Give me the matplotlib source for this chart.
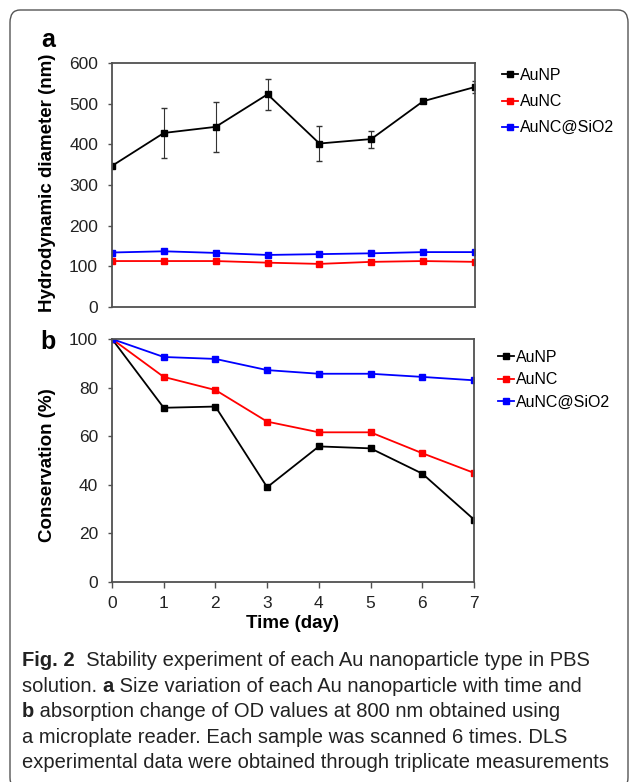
import matplotlib
matplotlib.use("Agg")
import matplotlib.pyplot as plt
from matplotlib.patches import FancyBboxPatch

# data
days = [0, 1, 2, 3, 4, 5, 6, 7]
series = ["AuNP", "AuNC", "AuNC@SiO2"]
colors = ["black", "#ff0000", "#0000ff"]

size_aunp = [347, 428, 443, 523, 402, 413, 506, 541]
size_aunp_err = [0, 62, 61, 38, 43, 21, 0, 15]
size_aunc = [113, 113, 113, 109, 106, 111, 113, 111]
size_aunc_sio2 = [134, 137, 133, 128, 130, 132, 135, 135]

cons_aunp = [100, 71.7, 72.2, 39, 55.8, 55, 44.6, 25.7]
cons_aunc = [100, 84.4, 79, 66, 61.6, 61.6, 53, 44.9]
cons_aunc_sio2 = [100, 92.6, 91.8, 87.2, 85.7, 85.7, 84.4, 83]

caption = [
    [("Fig. 2", True), ("  Stability experiment of each Au nanoparticle type in PBS", False)],
    [("solution. ", False), ("a", True), (" Size variation of each Au nanoparticle with time and", False)],
    [("b", True), (" absorption change of OD values at 800 nm obtained using", False)],
    [("a microplate reader. Each sample was scanned 6 times. DLS", False)],
    [("experimental data were obtained through triplicate measurements", False)],
]

W, H = 629, 782
plt.rcParams['font.family'] = ['Liberation Sans', 'DejaVu Sans']
fig = plt.figure(figsize=(W / 100, H / 100), dpi=100)

def px_ax(l, t, r, b):
    return fig.add_axes([l / W, 1 - b / H, (r - l) / W, (b - t) / H])

spine_c = "#505050"

def style(ax):
    for s in ax.spines.values():
        s.set_color(spine_c)
        s.set_linewidth(1.3)
    ax.tick_params(direction="out", length=3, width=1, color=spine_c,
                   labelsize=12.5, pad=7, labelcolor="#222222")

# panel a
ax1 = px_ax(112, 63, 475, 307)
h0 = ax1.errorbar(days, size_aunp, yerr=size_aunp_err, color=colors[0], marker="s",
                  ms=4.5, lw=1.3, elinewidth=0.8, capsize=2, ecolor="#333333")
h1, = ax1.plot(days, size_aunc, color=colors[1], marker="s", ms=4.5, lw=1.3)
h2, = ax1.plot(days, size_aunc_sio2, color=colors[2], marker="s", ms=4.5, lw=1.3)
ax1.set_xlim(0, 7)
ax1.set_ylim(0, 600)
ax1.set_yticks(range(0, 601, 100))
ax1.set_xticks([])
style(ax1)
ax1.set_ylabel("Hydrodynamic diameter (nm)", fontsize=13.5, fontweight="bold")
ax1.yaxis.set_label_coords(-0.155, 0.51)
ax1.legend([h0.lines[0], h1, h2], series, loc="upper left",
           bbox_to_anchor=(494 / W, 1 - 60 / H),
           bbox_transform=fig.transFigure, frameon=False, fontsize=11.5,
           handlelength=1.0, handletextpad=0.15, labelspacing=0.7, borderpad=0)

# panel b
ax2 = px_ax(112, 339, 474, 582)
ax2.plot(days, cons_aunp, color=colors[0], marker="s", ms=4.5, lw=1.3, label=series[0])
ax2.plot(days, cons_aunc, color=colors[1], marker="s", ms=4.5, lw=1.3, label=series[1])
ax2.plot(days, cons_aunc_sio2, color=colors[2], marker="s", ms=4.5, lw=1.3, label=series[2])
ax2.set_xlim(0, 7)
ax2.set_ylim(0, 100)
ax2.set_yticks(range(0, 101, 20))
ax2.set_xticks(days)
style(ax2)
ax2.tick_params(axis="x", length=4, pad=6)
ax2.set_ylabel("Conservation (%)", fontsize=13.5, fontweight="bold")
ax2.yaxis.set_label_coords(-0.155, 0.48)
ax2.set_xlabel("Time (day)", fontsize=13.5, fontweight="bold", labelpad=3)
ax2.legend(loc="upper left", bbox_to_anchor=(490 / W, 1 - 342 / H),
           bbox_transform=fig.transFigure, frameon=False, fontsize=11.5,
           handlelength=1.0, handletextpad=0.15, labelspacing=0.45, borderpad=0)

fig.text(48 / W, 1 - 40 / H, "a", fontsize=18, fontweight="bold", ha="center", va="center")
fig.text(48 / W, 1 - 342 / H, "b", fontsize=18, fontweight="bold", ha="center", va="center")

# rounded frame
frame = FancyBboxPatch((10 / W, -0.01), 618 / W, 1 - 10 / H + 0.01,
                       boxstyle="round,pad=0,rounding_size=0.016",
                       transform=fig.transFigure, fill=False,
                       edgecolor="#555555", lw=1.0, clip_on=False)
fig.patches.append(frame)

# caption, pieced together so bold parts sit inline
renderer = fig.canvas.get_renderer()
y0 = 666
for i, line in enumerate(caption):
    x = 22
    y = y0 + i * 25.6
    for txt, bold in line:
        t = fig.text(x / W, 1 - y / H, txt, fontsize=14.5,
                     fontweight="bold" if bold else "normal", ha="left", va="baseline",
                     color="#222222")
        bb = t.get_window_extent(renderer)
        x += bb.width

fig.savefig("out.png", dpi=100)
